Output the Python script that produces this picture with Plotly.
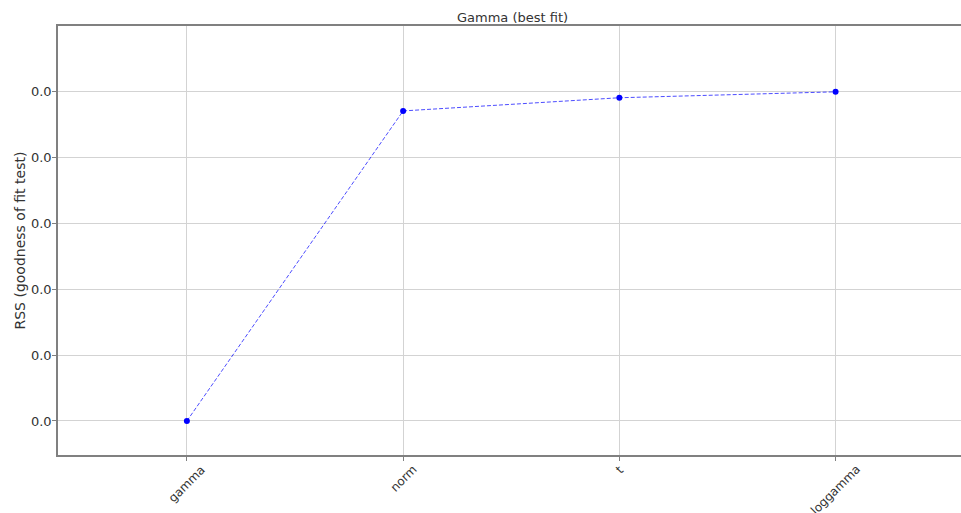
import plotly.graph_objects as go

distributions = ["gamma", "norm", "t", "loggamma"]
rss_values = [0.0050, 0.02855, 0.02955, 0.0300]
y_tick_values = [0.005, 0.010, 0.015, 0.020, 0.025, 0.030]

font_family = "DejaVu Sans"
text_color = "#333333"

fig = go.Figure()
fig.add_trace(go.Scatter(
    x=list(range(len(distributions))),
    y=rss_values,
    mode="lines+markers",
    line=dict(color="rgba(0,0,255,0.7)", width=1, dash="4px,2px"),
    marker=dict(color="blue", size=6),
    showlegend=False,
))

# rotated, centred category labels (matplotlib style rotation=45)
for i, name in enumerate(distributions):
    fig.add_annotation(
        x=i, xref="x", y=0, yref="paper",
        text=name, showarrow=False, textangle=-45,
        xanchor="center", yanchor="top", yshift=-5,
        font=dict(family=font_family, size=12, color=text_color),
    )

fig.add_annotation(
    x=0.503, xref="paper", y=1, yref="paper", yshift=9,
    text="Gamma (best fit)", showarrow=False,
    xanchor="center", yanchor="middle",
    font=dict(family=font_family, size=13, color=text_color),
)

fig.add_annotation(
    x=0, xref="paper", y=0.5, yref="paper", xshift=-39,
    text="RSS (goodness of fit test)", showarrow=False, textangle=-90,
    xanchor="center", yanchor="middle",
    font=dict(family=font_family, size=14, color=text_color),
)

fig.update_layout(
    width=961, height=513,
    margin=dict(l=58, r=0, t=26, b=58),
    paper_bgcolor="white", plot_bgcolor="white",
    font=dict(family=font_family, size=13, color=text_color),
    xaxis=dict(
        range=[-0.596, 3.58],
        tickmode="array", tickvals=list(range(len(distributions))),
        ticktext=["" for _ in distributions],
        showgrid=True, gridcolor="#d3d3d3", gridwidth=1,
        showline=True, linecolor="#808080", linewidth=1.5, mirror=True,
        ticks="outside", ticklen=4, tickcolor="#808080",
        zeroline=False,
    ),
    yaxis=dict(
        range=[0.002415, 0.035],
        tickmode="array", tickvals=y_tick_values,
        tickformat=".1f", ticklabelstandoff=-2,
        showgrid=True, gridcolor="#d3d3d3", gridwidth=1,
        showline=True, linecolor="#808080", linewidth=1.5, mirror=False,
        ticks="outside", ticklen=4, tickcolor="#808080",
        zeroline=False,
    ),
)

fig.write_html(
    "out.html",
    config={"displayModeBar": False},
    post_script="document.body.style.margin='0';document.body.style.overflow='hidden';",
)
